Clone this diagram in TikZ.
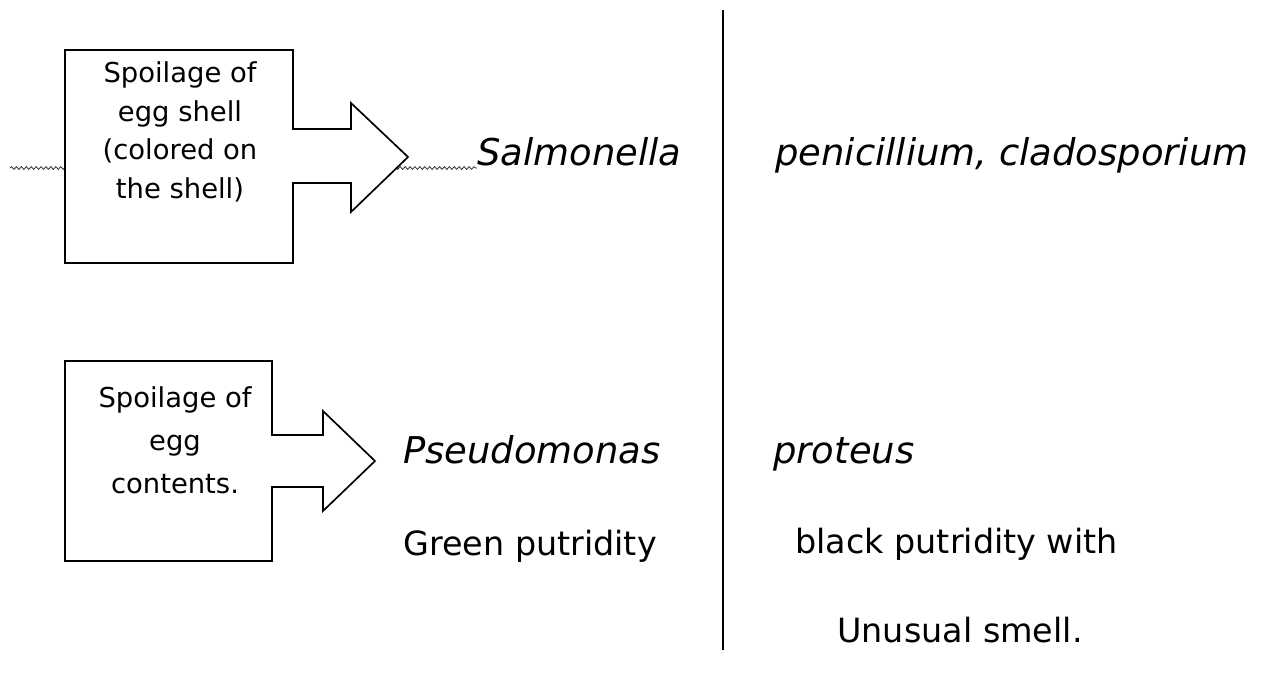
\documentclass[tikz,border=0pt]{standalone}
\usepackage{fontspec}
\setmainfont{DejaVu Sans}
\usetikzlibrary{positioning, calc, decorations.pathmorphing}

\begin{document}
\begin{tikzpicture}[x=0.02cm, y=-0.02cm,
  callout/.style={draw=black, fill=white, line width=0.95pt, line join=miter},
  boxtext/.style={align=center, inner sep=0pt, font=\fontsize{15.6}{22}\selectfont},
  genus/.style={anchor=base west, inner sep=0pt, font=\fontsize{21}{25}\selectfont\itshape},
  note/.style={anchor=base west, inner sep=0pt, font=\fontsize{19}{23}\selectfont},
  wave/.style={decorate, decoration={snake, amplitude=0.8pt, segment length=2.8pt}, line width=0.45pt, draw=black!80}
]
  \useasboundingbox (0,0) rectangle (1266,677);

  \node[genus] (salm) at (477,165) {Salmonella};
  \node[genus] (peni) at (775,165) {penicillium, cladosporium};
  \node[genus] (pseu) at (403,463) {Pseudomonas};
  \node[genus] (prot) at (773,463) {proteus};
  \node[note] (green) at (403,555) {Green putridity};
  \node[note] (black) at (795,553) {black putridity with};
  \node[note] (smell) at (837,642) {Unusual smell.};

  \coordinate (divtop) at (723,10);
  \coordinate (divbot) at (723,650);
  \draw[line width=1.1pt] (divtop) -- (divbot);

  \coordinate (wl) at (10,168);
  \draw[wave] (wl) -- (wl -| salm.west);

  % shell
  \draw[callout] (65,50) -- (293,50) -- (293,129) -- (351,129) -- (351,103) -- (408,157)
    -- (351,212) -- (351,183) -- (293,183) -- (293,263) -- (65,263) -- cycle;
  \node[boxtext] (shell) at (180,132) {Spoilage of\\egg shell\\(colored on\\the shell)};

  % contents
  \draw[callout] (65,361) -- (272,361) -- (272,435) -- (323,435) -- (323,411) -- (375,461)
    -- (323,511) -- (323,487) -- (272,487) -- (272,561) -- (65,561) -- cycle;
  \node[boxtext, font=\fontsize{15.6}{24.5}\selectfont] (cont) at (175,440) {Spoilage of\\egg\\contents.};
\end{tikzpicture}
\end{document}
